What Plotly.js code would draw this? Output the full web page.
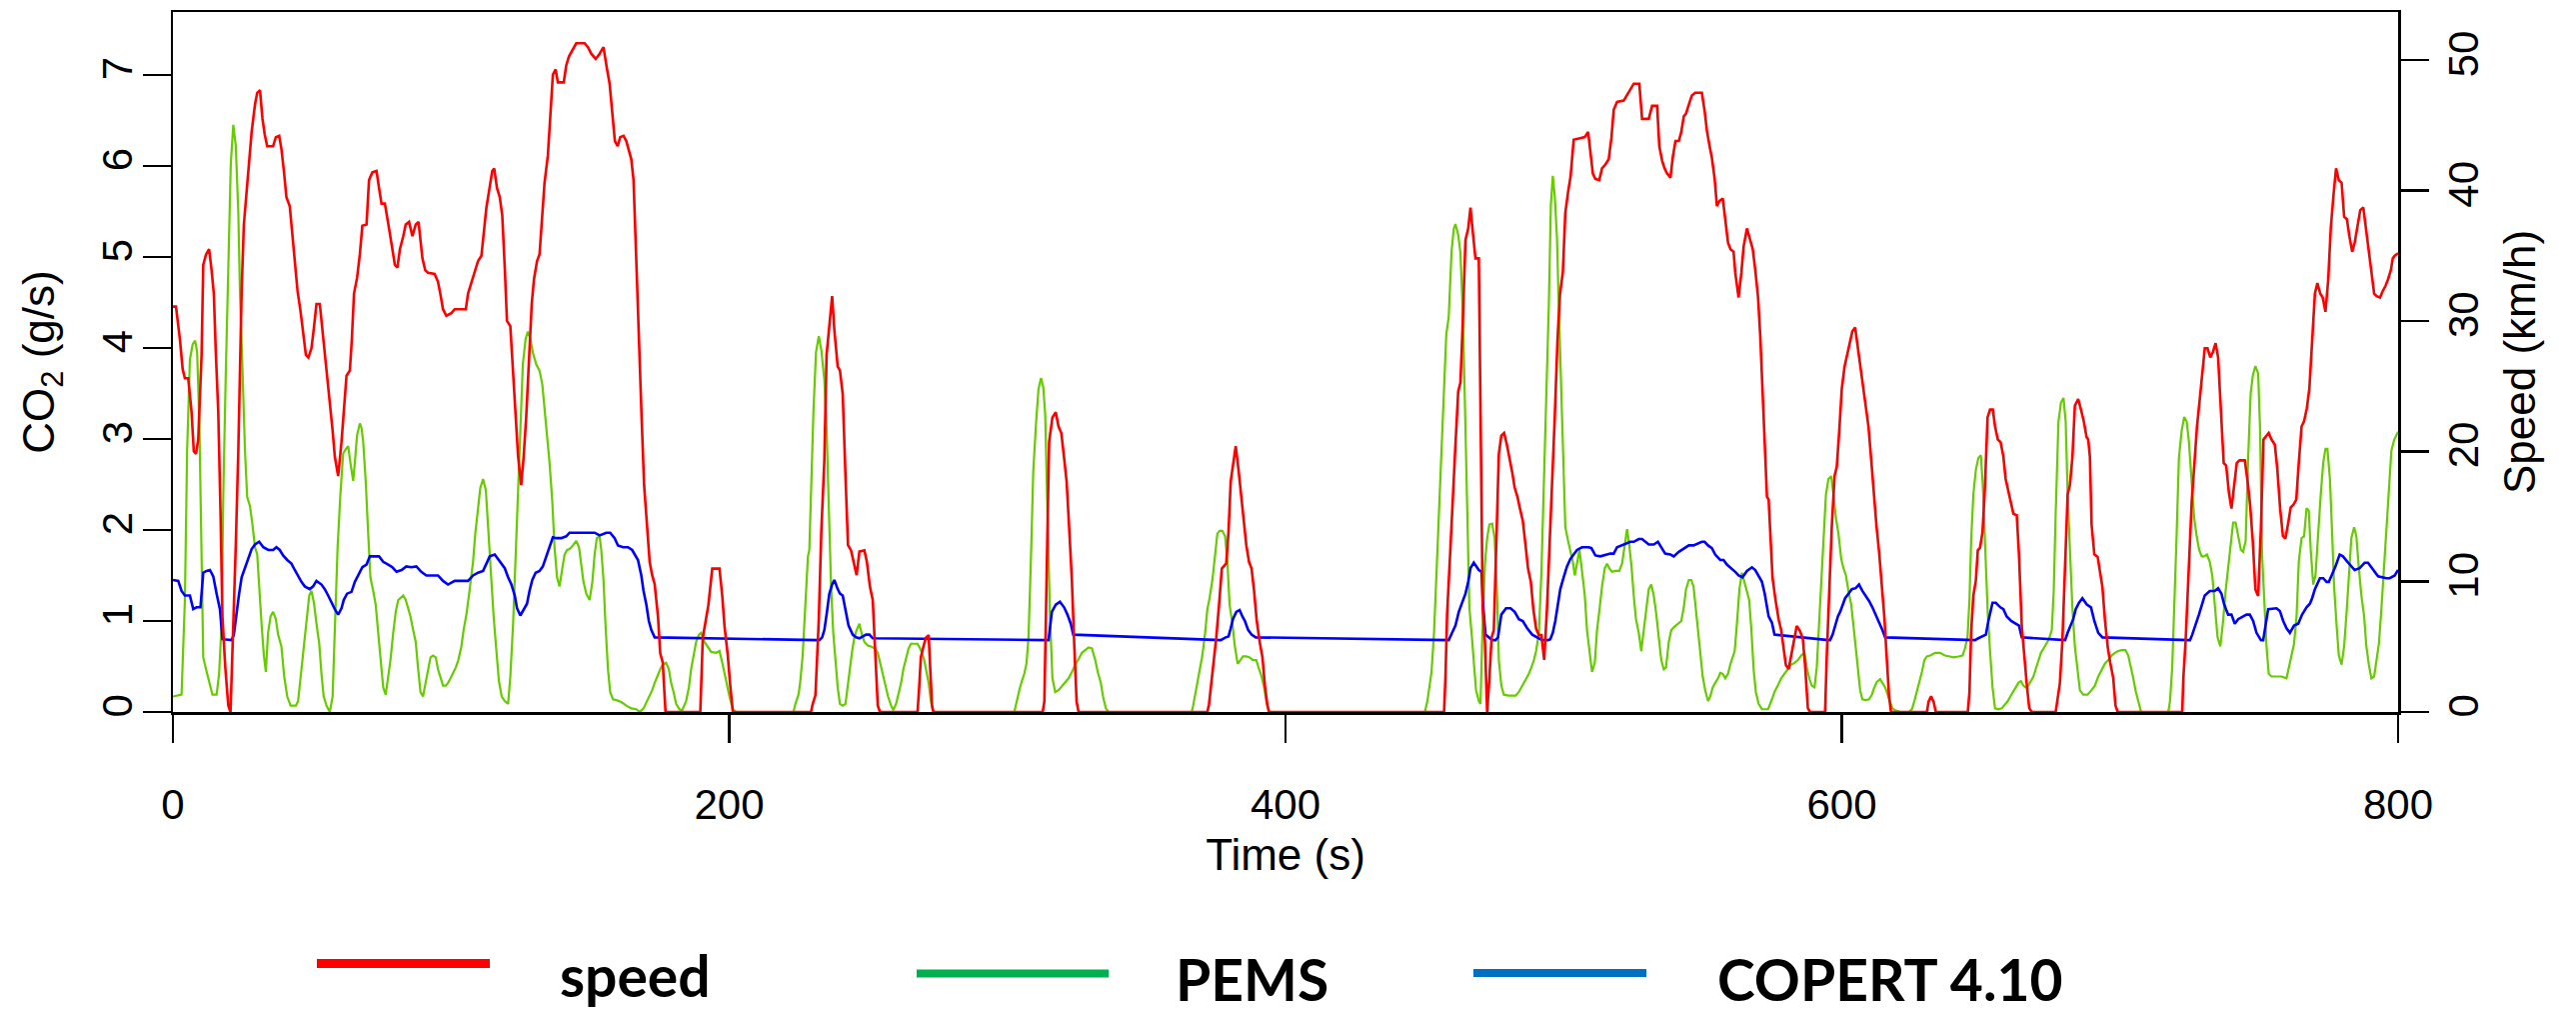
<!DOCTYPE html>
<html>
<head>
<meta charset="utf-8">
<script src="https://cdn.plot.ly/plotly-3.0.1.min.js"></script>
<style>
html,body{margin:0;padding:0;background:#fff;}
#chart{width:2577px;height:1013px;}
</style>
</head>
<body>
<div id="chart"></div>
<script>
// ---- Data ----
const speedTime = [0,1.1,2.5,3.5,4.3,5.5,6.7,7.5,8.3,9.1,10.3,10.9,11.9,13.0,13.9,14.7,15.4,16.3,17.1,17.8,18.8,19.9,20.7,21.7,22.6,23.5,24.7,25.5,26.5,27.4,28.3,29.5,30.3,31.3,32.2,33.0,33.9,36.0,37.0,38.2,39.0,39.9,40.8,42.0,43.0,43.9,44.8,45.9,46.8,47.8,48.7,49.8,50.7,51.6,52.8,53.8,54.6,55.5,56.4,57.4,58.2,59.4,60.6,61.4,62.4,63.6,64.3,65.1,66.2,67.2,68.1,69.6,70.5,71.7,73.2,74.1,75.0,76.2,77.0,78.0,78.9,79.8,80.7,81.6,82.8,83.7,84.9,86.1,87.3,88.3,89.0,89.7,90.7,91.7,94.1,95.3,96.2,97.1,98.3,100.1,101.3,105.3,106.1,107.3,108.5,109.7,110.9,111.7,112.7,113.6,114.8,115.5,116.5,117.5,118.4,119.3,120.1,121.3,122.3,123.2,124.1,125.2,126.1,127.0,128.0,129.0,129.8,130.9,131.8,132.7,133.6,134.8,135.8,136.6,137.6,138.4,140.5,141.4,142.4,143.6,145.0,148.0,149.2,150.4,152.0,153.4,154.8,156.0,157.0,157.9,158.9,159.9,160.8,162.0,163.0,164.8,165.6,166.6,167.5,168.5,169.4,170.4,171.4,172.3,173.2,174.4,175.2,176.1,177.1,189.6,190.5,192.5,193.9,196.5,197.5,198.3,199.5,200.3,201.3,229.4,230.0,231.0,232.2,233.1,234.2,235.0,236.0,237.0,237.8,239.0,239.8,240.8,241.8,242.7,243.8,244.8,245.8,246.8,248.6,249.5,250.6,251.6,252.5,253.4,254.2,267.7,268.3,268.9,269.8,270.7,271.7,272.2,272.9,273.4,312.7,313.3,314.1,315.0,316.2,317.4,318.4,319.4,320.4,321.3,322.2,323.2,324.0,324.9,325.6,371.9,372.5,373.5,374.3,375.1,376.1,377.1,378.7,379.5,380.3,381.1,382.1,383.1,384.0,384.8,385.9,386.9,387.8,388.7,389.6,390.7,391.7,392.6,393.5,394.1,457.0,457.5,458.1,459.3,460.2,461.1,462.1,462.9,463.7,464.7,465.7,466.5,467.3,468.3,469.5,470.1,470.9,471.7,472.5,473.3,474.1,474.9,475.7,476.7,477.6,478.6,479.6,480.5,481.5,482.4,483.4,484.3,485.3,486.3,487.2,488.2,489.1,490.1,491.1,492.0,493.0,494.0,494.9,495.8,496.8,497.8,498.7,499.7,500.6,501.6,502.5,503.6,505.4,507.6,508.8,509.6,510.5,511.4,512.8,513.8,515.0,516.2,517.2,518.0,519.2,521.6,522.8,524.0,525.2,527.2,528.2,530.6,531.8,533.6,534.4,535.4,536.3,537.2,538.4,539.2,540.2,541.4,542.3,543.2,544.0,545.0,546.1,547.3,549.7,550.7,551.5,552.4,553.3,554.3,555.1,556.0,557.2,558.1,559.1,560.0,561.1,561.7,562.9,563.9,564.7,565.9,567.1,568.0,568.9,569.9,570.7,571.5,572.3,573.1,573.7,574.3,575.1,576.1,577.3,578.2,579.1,579.9,580.9,581.8,582.7,583.8,585.0,586.0,586.8,587.8,588.6,594.0,594.6,595.5,596.4,597.4,598.2,599.1,600.0,601.0,601.9,602.9,603.8,604.8,605.8,606.7,607.7,608.6,609.6,610.6,611.5,612.5,613.4,614.4,615.3,616.2,617.0,617.7,630.6,631.2,632.1,633.0,633.8,645.3,645.9,646.5,647.3,648.2,648.9,649.7,650.6,651.5,652.4,653.3,654.3,655.1,656.1,657.1,658.1,658.9,659.9,660.9,661.7,662.9,663.7,664.7,665.6,666.6,667.4,668.3,676.9,677.4,678.4,679.3,680.3,681.2,682.0,682.9,683.8,685.0,686.0,687.0,688.0,688.6,689.2,689.8,690.8,692.0,692.8,693.7,694.6,695.6,696.5,697.6,698.4,699.2,722.4,722.8,723.6,724.6,725.8,726.7,727.7,728.7,729.6,730.5,731.5,732.5,733.4,734.4,735.3,736.3,737.3,738.2,739.2,740.1,741.1,742.0,743.0,744.9,745.9,746.8,747.8,748.7,749.7,750.7,751.6,752.6,753.5,754.5,755.7,756.6,757.6,758.6,759.5,760.5,761.4,762.4,763.4,764.3,765.3,766.2,767.2,768.1,769.1,770.1,771.0,772.0,772.9,773.9,774.9,775.8,776.8,777.7,778.7,779.7,780.6,781.6,782.5,783.5,784.4,785.4,786.4,787.5,788.5,789.5,790.4,791.4,792.3,793.5,794.5,795.5,796.4,797.4,798.1,798.8,800];
const speedKmh = [31.1,31.1,28.6,26.3,25.6,25.6,23.0,20.0,19.8,20.9,27.4,34.3,35.1,35.5,33.9,32.1,27.7,23.0,15.4,7.3,3.5,0.5,0,6.1,12.8,20.0,32.3,37.4,40.2,42.7,44.5,46.6,47.5,47.7,45.5,44.3,43.4,43.4,44.1,44.2,43.2,41.5,39.5,38.8,36.5,34.3,32.3,30.7,29.3,27.4,27.2,27.9,29.5,31.3,31.3,29.3,27.6,25.8,23.7,21.6,19.6,18.1,20.7,23.3,25.8,26.2,28.5,32.1,33.3,35.1,37.3,37.4,40.8,41.4,41.5,40.2,39.0,39.0,37.8,36.7,35.5,34.3,34.1,35.5,36.5,37.4,37.6,36.5,37.4,37.6,36.2,34.8,33.9,33.7,33.6,33.0,32.0,30.9,30.4,30.6,30.9,30.9,32.1,33.0,33.9,34.6,35.0,36.7,38.7,39.9,41.5,41.7,40.2,39.5,38.1,34.1,30.0,29.6,26.0,21.9,19.6,17.4,19.6,22.6,26.7,31.3,33.2,34.6,35.1,37.6,40.6,42.7,46.6,48.9,49.3,48.3,48.3,49.6,50.3,50.8,51.3,51.3,51.0,50.5,50.1,50.5,51.0,49.4,48.2,46.1,43.8,43.4,44.1,44.2,43.8,42.4,40.8,34.6,28.1,22.6,17.4,14.4,11.5,10.5,9.8,7.3,4.5,3.8,0,0,5.7,8.2,11.0,11.0,8.9,6.6,4.3,2.2,0,0,0.6,1.3,7.1,13.8,19.3,27.4,30.0,31.9,29.3,26.5,26.2,24.4,18.1,12.8,12.4,11.5,10.5,12.3,12.4,11.5,9.6,8.6,4.7,0.5,0,0,1.9,4.2,5.0,5.7,5.9,3.1,0.5,0,0,0.8,10.0,20.7,22.6,23.0,21.9,21.4,19.5,17.7,14.2,10.1,5.4,0.8,0,0,0.6,2.6,4.0,5.7,8.2,11.0,11.4,13.8,17.7,19.1,20.4,18.6,16.7,14.9,12.8,11.5,11.0,9.3,7.1,5.4,4.2,2.0,0.5,0,0,2.6,7.5,12.6,16.1,20.5,24.6,25.3,29.7,36.2,37.1,38.7,36.9,34.8,34.8,24.0,7.9,5.4,0,2.6,5.7,6.3,12.4,19.8,21.2,21.4,20.5,19.6,18.4,17.2,16.5,15.6,14.7,12.8,11.0,10.0,7.9,6.4,5.9,5.9,4.0,7.9,12.4,16.8,22.6,28.6,32.1,33.7,38.3,39.9,41.1,43.9,44.0,44.1,44.5,43.1,41.3,40.9,40.8,41.7,42.0,42.4,44.1,46.2,46.8,46.9,47.3,47.8,48.2,48.2,45.5,45.5,46.5,46.5,43.4,42.3,41.7,41.3,41.0,42.5,43.8,43.8,44.5,45.7,45.9,46.6,47.3,47.5,47.5,46.1,44.6,43.5,42.5,40.9,38.8,39.2,39.4,37.8,36.0,35.5,35.3,33.7,31.8,33.7,35.7,37.1,36.2,35.5,33.9,31.8,28.8,24.6,20.5,16.5,16.3,13.5,10.3,8.7,7.1,6.3,4.7,3.6,3.3,4.3,5.2,6.6,6.2,5.6,3.6,0.3,0,0,4.3,9.6,14.2,18.1,18.8,21.6,24.8,26.5,27.4,28.5,29.2,29.5,27.9,26.2,24.9,23.2,21.9,19.3,16.7,14.2,12.3,9.6,7.3,4.0,1.2,0,0,0.8,1.2,0.8,0,0,1.5,6.1,8.9,10.1,12.4,12.6,13.8,17.4,22.6,23.2,23.2,21.9,20.9,20.7,19.6,17.9,17.0,15.9,15.2,15.1,12.1,6.6,4.2,1.9,0.3,0,0,0.8,2.2,5.4,11.7,16.7,17.4,19.5,23.5,24.0,23.2,22.3,21.1,20.9,19.6,14.4,12.1,11.9,10.8,9.6,7.1,5.0,3.8,2.6,0.5,0,0,2.6,5.4,10.7,16.1,18.8,21.9,24.0,26.2,27.9,27.9,27.2,27.6,28.3,27.2,22.8,19.1,18.9,16.8,15.6,17.5,19.1,19.3,19.3,17.7,15.9,13.0,9.4,8.9,14.2,20.9,21.2,21.4,20.9,20.5,18.6,15.6,13.5,13.3,14.5,15.7,15.9,16.3,19.1,21.9,22.3,23.3,24.8,28.5,32.1,32.9,32.1,31.8,30.7,33.2,37.1,39.7,41.7,40.8,40.6,38.0,37.8,36.5,35.3,36.0,37.3,38.5,38.7,37.1,35.3,33.7,32.1,31.9,31.8,32.3,32.7,33.2,33.9,34.8,35.0,35.2];

const pemsTime = [0,3.1,4.3,5.1,6.1,7.1,8.0,8.7,9.5,10.3,10.9,11.9,13.0,14.2,15.7,16.6,17.5,18.1,19.0,19.9,20.8,21.7,22.6,23.5,24.1,25.0,25.9,26.7,27.7,28.5,29.5,30.3,31.0,31.9,32.7,33.4,34.2,35.1,36.0,37.0,37.8,39.0,40.0,41.1,42.3,44.2,45.0,45.9,46.8,48.0,49.0,49.8,50.7,51.6,52.6,53.4,54.2,55.2,56.4,57.4,58.2,59.2,60.2,61.2,62.2,63.0,63.8,64.8,65.4,66.2,67.2,67.8,68.4,69.3,70.2,71.0,72.0,72.9,73.8,74.6,75.6,76.5,77.4,78.2,79.2,80.1,81.0,81.8,82.8,83.7,84.6,85.4,86.3,87.3,88.1,89.0,89.9,90.9,91.7,92.6,93.5,94.5,95.3,96.2,97.1,98.1,98.9,99.8,100.7,101.7,102.6,103.7,104.5,105.5,106.5,107.3,107.9,108.7,109.7,110.5,111.5,112.5,112.9,113.6,113.9,114.5,115.3,116.3,117.2,118.2,119.3,120.5,121.3,122.3,123.2,124.1,124.9,125.8,126.8,127.6,128.5,129.4,130.6,131.8,132.8,133.6,134.5,135.4,136.4,137.2,138.1,139.0,140.0,140.8,141.7,142.6,143.8,145.0,146.0,146.8,147.6,148.6,149.8,150.8,151.6,152.4,153.4,154.0,154.8,155.5,156.4,157.2,158.2,159.4,161.2,163.0,164.8,166.6,167.8,169.2,170.4,171.4,172.3,173.2,174.4,175.2,176.1,177.3,178.3,179.1,180.0,180.9,182.1,183.1,184.5,185.5,186.3,187.2,188.1,189.1,189.9,191.1,192.3,193.5,195.3,196.5,197.5,198.3,199.1,200.1,201.3,202.5,223.1,223.8,224.9,225.5,226.4,227.4,228.3,228.8,229.4,230.3,231.2,232.2,233.1,234.2,235.0,235.8,236.6,237.4,238.2,239.0,239.8,240.8,241.8,242.6,243.4,244.2,245.0,245.8,246.8,247.7,248.6,249.8,251.0,252.2,253.4,254.2,255.2,256.1,257.1,258.2,259.0,260.0,260.9,261.8,262.6,263.6,264.5,265.3,266.6,267.7,268.6,269.3,270.1,271.0,271.7,272.5,273.4,302.5,303.3,304.3,305.2,306.1,306.9,307.6,308.5,309.3,310.3,311.2,312.1,312.9,313.6,314.4,315.3,316.2,317.2,318.4,319.6,320.8,322.0,323.2,324.4,325.6,326.8,328.0,329.2,330.4,331.6,332.5,333.6,334.4,335.4,336.4,366.3,366.8,367.5,368.3,369.2,370.1,371.1,371.9,372.7,373.7,374.7,375.5,376.3,377.3,378.3,379.1,379.9,380.9,381.8,382.8,383.8,384.7,385.9,387.1,388.3,389.5,390.5,391.4,392.3,393.1,394.1,450.1,451.0,451.8,452.5,453.4,454.2,455.1,456.1,457.0,457.8,458.5,458.7,459.7,460.5,461.1,462.1,462.9,463.7,464.5,465.3,466.1,466.9,467.7,468.5,469.5,470.1,470.7,471.7,472.5,473.3,474.3,475.2,476.1,476.7,477.6,478.5,480.3,482.7,483.9,484.8,485.7,486.5,487.5,488.4,489.3,490.1,491.1,492.0,492.9,493.7,494.7,495.4,496.1,496.8,497.6,498.2,499.1,499.9,500.6,501.6,502.4,503.3,504.0,504.8,505.7,506.6,507.6,508.4,509.3,510.2,511.2,512.0,512.9,513.8,514.8,515.6,516.4,517.4,518.6,520.0,521.0,522.0,522.8,523.6,524.4,525.2,526.0,527.0,527.9,528.8,529.6,530.6,531.5,532.4,533.2,534.2,535.1,536.0,536.8,537.8,538.7,539.6,540.5,541.4,542.3,543.2,544.0,545.0,545.9,546.7,547.6,548.3,549.1,550.0,550.9,551.9,552.7,553.6,554.5,555.5,556.3,557.2,558.1,559.1,559.9,560.8,561.5,562.3,563.2,564.1,564.9,565.9,566.7,567.5,568.3,569.1,570.1,571.3,572.5,573.5,574.9,575.8,577.0,578.2,579.4,580.6,581.8,583.0,584.2,585.4,586.6,587.4,588.3,589.2,590.2,591.0,591.6,592.6,593.4,594.3,595.2,596.2,597.0,597.9,598.8,599.8,600.6,601.5,602.4,603.4,604.2,605.1,605.8,606.6,607.4,608.6,609.8,610.8,611.7,612.6,613.8,614.6,615.6,616.5,617.4,618.2,619.2,621.0,624.0,625.2,626.1,627.0,627.8,628.8,629.7,630.6,631.8,633.6,635.3,637.1,638.9,640.1,641.9,643.4,644.3,645.2,645.9,646.5,647.3,648.2,649.1,650.0,650.7,651.5,652.5,653.3,654.2,655.1,656.3,657.5,658.7,659.7,660.6,661.6,662.5,663.5,664.4,665.3,666.1,667.1,668.0,668.9,669.7,670.7,671.6,672.6,673.5,674.5,675.5,676.2,676.9,677.9,678.8,679.7,680.5,681.2,682.1,682.9,683.8,684.8,685.6,686.8,688.3,689.8,691.0,692.2,693.4,694.6,695.8,697.0,698.2,699.4,700.6,702.0,703.0,704.0,704.8,705.6,706.6,707.6,717.4,718.0,718.8,719.5,720.4,721.2,722.2,723.1,724.0,724.8,725.8,726.7,727.6,728.5,729.4,730.3,731.3,732.3,733.2,734.1,735.1,736.1,737.0,738.0,738.9,739.9,740.7,741.6,742.5,743.5,744.3,745.2,746.1,747.0,747.8,748.7,749.7,750.4,751.1,751.9,752.7,753.5,754.5,756.3,758.1,759.9,760.8,761.7,762.6,763.5,764.3,765.3,766.2,767.1,767.9,768.6,769.5,770.3,771.3,772.2,773.1,773.9,774.6,775.5,776.3,777.0,777.9,778.7,779.7,780.6,781.5,782.3,783.2,784.2,785.0,785.9,786.8,787.8,788.6,789.5,790.4,791.4,792.2,793.1,794.0,795.0,795.8,796.7,797.6,798.6,800];
const pemsCO2 = [0.17,0.19,1.23,2.87,3.87,4.04,4.08,3.95,3.19,1.58,0.60,0.47,0.34,0.19,0.19,0.42,0.97,2.39,3.72,4.96,6.02,6.45,6.22,5.49,4.61,3.77,2.87,2.36,2.26,2.08,1.81,1.73,1.33,0.95,0.62,0.44,0.87,1.05,1.10,1.02,0.85,0.72,0.39,0.17,0.07,0.07,0.12,0.39,0.70,1.05,1.28,1.33,1.20,0.97,0.75,0.42,0.17,0.07,0,0.17,0.92,1.81,2.39,2.84,2.89,2.92,2.74,2.54,2.74,3.04,3.17,3.12,2.97,2.54,1.96,1.48,1.33,1.18,0.87,0.57,0.27,0.19,0.37,0.57,0.87,1.10,1.23,1.25,1.28,1.23,1.13,1.05,0.91,0.77,0.49,0.22,0.17,0.32,0.47,0.60,0.62,0.60,0.47,0.37,0.29,0.29,0.32,0.37,0.42,0.49,0.57,0.72,0.90,1.07,1.30,1.53,1.65,1.96,2.26,2.46,2.56,2.44,2.24,1.88,1.83,1.43,1.05,0.67,0.34,0.17,0.12,0.09,0.39,0.97,1.73,2.49,3.22,3.82,4.10,4.18,4.10,3.95,3.82,3.75,3.60,3.35,3.07,2.74,2.31,1.81,1.48,1.38,1.58,1.73,1.78,1.79,1.83,1.88,1.81,1.63,1.43,1.30,1.23,1.43,1.73,1.91,1.93,1.78,1.45,0.97,0.47,0.22,0.14,0.13,0.11,0.07,0.04,0.03,0,0.04,0.12,0.17,0.24,0.32,0.42,0.47,0.52,0.54,0.47,0.32,0.22,0.09,0.03,0.02,0.12,0.27,0.47,0.62,0.77,0.85,0.87,0.77,0.71,0.66,0.65,0.67,0.54,0.42,0.29,0.17,0.03,0,0,0.09,0.19,0.32,0.62,1.13,1.71,1.78,2.51,3.32,3.95,4.13,3.98,3.65,3.12,2.29,1.40,0.87,0.54,0.27,0.09,0.07,0.09,0.29,0.52,0.67,0.82,0.90,0.97,0.85,0.77,0.73,0.72,0.70,0.65,0.54,0.42,0.29,0.17,0.07,0.02,0.09,0.19,0.32,0.47,0.60,0.70,0.75,0.75,0.75,0.70,0.65,0.57,0.44,0.32,0.12,0,0,0.12,0.24,0.34,0.42,0.54,0.82,1.71,2.64,3.17,3.55,3.67,3.57,3.27,2.36,1.07,0.37,0.22,0.24,0.28,0.32,0.37,0.44,0.52,0.58,0.65,0.68,0.71,0.70,0.57,0.44,0.32,0.17,0.04,0,0,0.07,0.19,0.32,0.47,0.62,0.87,1.13,1.25,1.45,1.73,1.96,1.99,1.99,1.93,1.65,1.18,0.97,0.72,0.53,0.57,0.61,0.61,0.60,0.57,0.57,0.47,0.39,0.27,0.12,0,0,0.12,0.29,0.44,0.87,1.48,2.21,2.87,3.60,4.15,4.30,4.35,5.06,5.31,5.36,5.24,5.04,4.43,3.40,2.11,1.15,0.87,0.57,0.24,0.12,0.09,0.77,1.63,1.91,2.06,2.07,1.91,1.25,0.57,0.29,0.19,0.18,0.18,0.22,0.27,0.32,0.37,0.42,0.49,0.57,0.67,0.87,1.53,2.49,3.22,4.51,5.57,5.89,5.67,5.21,4.51,3.50,2.59,2.03,1.88,1.76,1.65,1.50,1.65,1.78,1.55,1.28,0.90,0.67,0.44,0.54,0.90,1.13,1.38,1.58,1.63,1.58,1.54,1.55,1.55,1.63,1.86,2.01,1.83,1.60,1.28,1.02,0.87,0.67,0.90,1.13,1.35,1.40,1.28,1.10,0.82,0.57,0.47,0.49,0.77,0.90,0.93,0.95,0.97,1.00,1.15,1.35,1.45,1.45,1.38,1.13,0.92,0.67,0.39,0.24,0.12,0.17,0.27,0.32,0.37,0.43,0.42,0.37,0.42,0.52,0.60,0.67,0.97,1.35,1.53,1.43,1.33,1.23,0.90,0.47,0.22,0.09,0.03,0.03,0.03,0.14,0.22,0.29,0.37,0.42,0.47,0.52,0.54,0.57,0.62,0.65,0.49,0.37,0.29,0.27,0.49,0.85,1.38,1.91,2.39,2.56,2.59,2.39,2.13,1.96,1.68,1.58,1.50,1.33,1.18,0.95,0.67,0.42,0.24,0.14,0.13,0.14,0.19,0.27,0.33,0.36,0.32,0.27,0.19,0.12,0.04,0.02,0,0,0.03,0.12,0.22,0.32,0.44,0.57,0.61,0.62,0.65,0.65,0.62,0.61,0.60,0.61,0.62,0.70,0.82,1.23,1.88,2.39,2.66,2.79,2.82,2.49,1.76,1.07,0.67,0.27,0.04,0.03,0.04,0.08,0.12,0.17,0.22,0.27,0.32,0.34,0.29,0.27,0.29,0.34,0.39,0.47,0.57,0.65,0.70,0.75,0.80,0.90,1.33,2.18,3.19,3.40,3.45,3.19,2.39,1.73,1.15,0.72,0.42,0.24,0.19,0.19,0.24,0.29,0.39,0.47,0.53,0.57,0.62,0.65,0.67,0.68,0.68,0.62,0.49,0.37,0.24,0.12,0,0,0.12,0.49,1.07,1.96,2.79,3.09,3.24,3.19,2.97,2.49,2.13,1.93,1.78,1.71,1.71,1.73,1.65,1.50,1.13,0.82,0.72,0.97,1.33,1.58,1.88,2.08,2.08,1.93,1.78,1.76,1.88,2.79,3.50,3.70,3.80,3.72,3.09,1.73,1.13,0.72,0.42,0.39,0.39,0.39,0.37,0.49,0.60,0.75,1.05,1.65,1.91,1.93,2.24,2.21,1.78,1.40,1.50,2.03,2.39,2.74,2.89,2.89,2.56,1.96,1.38,0.95,0.62,0.52,0.72,1.10,1.53,1.91,2.03,1.93,1.58,1.28,1.05,0.72,0.52,0.37,0.39,0.57,0.75,1.13,1.63,2.08,2.49,2.87,2.99,3.08];

const copertTime = [0,1.9,3.1,4.3,6.1,7.3,8.5,9.9,10.9,12.1,13.3,14.5,15.7,16.9,17.8,21.1,21.9,22.9,23.8,24.7,25.9,27.1,28.3,29.5,31.0,32.5,34.3,36.0,37.2,38.4,39.6,41.1,42.6,43.8,45.0,46.2,47.4,49.2,50.4,51.6,53.4,54.6,55.8,57.0,58.2,59.4,60.6,61.4,62.6,64.2,65.4,66.6,68.1,69.6,70.8,74.1,75.6,77.4,78.9,80.4,82.2,83.9,85.7,87.5,89.3,91.1,95.3,97.1,98.9,101.3,106.1,107.9,109.7,111.5,112.9,113.9,115.7,116.9,118.1,119.3,120.5,121.7,122.9,123.7,124.9,126.1,127.3,128.2,129.2,130.4,131.8,133.0,134.2,135.4,136.6,137.8,139.6,141.4,142.6,151.6,153.4,155.8,157.2,158.8,160.0,161.8,163.6,165.1,166.3,167.2,168.4,169.2,170.2,171.1,172.0,173.2,231.8,232.4,233.4,234.2,235.0,236.0,237.0,237.8,239.0,239.8,240.8,241.8,242.9,244.4,245.6,246.8,249.2,250.4,251.6,314.1,314.8,316.0,317.4,318.9,320.4,321.6,322.8,323.7,376.1,376.7,378.5,379.5,380.3,381.1,382.3,383.5,384.5,385.4,386.6,387.8,389.3,458.0,458.7,459.9,461.1,462.3,463.8,464.7,465.7,466.5,467.7,469.5,470.5,470.9,471.9,474.3,475.5,476.4,477.6,479.3,480.9,482.4,483.9,485.3,486.9,488.7,492.3,494.4,495.2,496.1,497.0,498.0,498.8,500.0,501.2,502.4,503.6,504.8,506.6,509.0,510.0,511.4,513.2,514.4,516.8,518.0,519.2,524.0,525.2,527.0,528.2,530.6,532.4,533.9,535.1,536.5,538.4,539.6,541.4,543.2,545.0,546.7,549.7,550.7,551.9,553.3,554.5,556.3,557.5,558.7,560.3,561.7,562.9,564.3,565.9,567.7,568.9,570.1,571.3,572.3,573.1,573.7,574.9,575.8,595.2,595.8,596.7,597.6,598.6,599.4,600.3,601.2,602.4,603.6,605.0,606.2,607.4,608.6,609.8,611.0,612.2,613.4,614.6,615.6,647.3,647.9,649.1,651.3,651.8,652.7,654.2,655.4,657.0,658.1,659.3,660.9,662.9,663.7,664.7,679.7,680.3,681.2,682.4,683.2,684.1,685.3,686.5,688.1,689.6,690.8,692.2,693.7,724.6,725.2,726.0,727.2,728.4,729.6,730.5,732.3,734.1,735.3,736.5,737.5,738.9,740.1,741.3,742.5,745.5,746.7,747.9,749.1,750.7,751.5,753.3,756.3,757.5,758.7,759.9,761.1,762.6,764.1,765.5,767.1,768.3,769.1,770.1,771.9,773.1,774.3,775.1,776.1,777.5,779.0,780.2,781.8,783.2,784.4,786.2,788.0,789.2,790.7,792.8,795.8,797.0,798.8,800];
const copertCO2 = [1.45,1.44,1.33,1.28,1.28,1.13,1.15,1.15,1.53,1.55,1.56,1.49,1.30,1.13,0.80,0.79,0.85,1.10,1.30,1.48,1.59,1.68,1.79,1.84,1.87,1.81,1.78,1.78,1.81,1.78,1.72,1.67,1.63,1.56,1.49,1.43,1.38,1.35,1.38,1.44,1.40,1.35,1.28,1.20,1.13,1.07,1.14,1.23,1.30,1.32,1.43,1.50,1.59,1.62,1.71,1.71,1.65,1.62,1.59,1.54,1.56,1.60,1.59,1.60,1.54,1.50,1.50,1.44,1.40,1.44,1.44,1.50,1.53,1.55,1.65,1.71,1.73,1.68,1.64,1.58,1.48,1.40,1.28,1.14,1.06,1.13,1.19,1.33,1.45,1.53,1.55,1.60,1.71,1.83,1.92,1.91,1.91,1.93,1.97,1.97,1.94,1.97,1.97,1.91,1.83,1.81,1.81,1.78,1.72,1.67,1.50,1.33,1.18,1.00,0.90,0.82,0.79,0.79,0.82,0.90,1.07,1.30,1.40,1.45,1.35,1.30,1.28,1.13,0.95,0.85,0.82,0.81,0.85,0.85,0.81,0.79,0.79,1.10,1.18,1.21,1.15,1.07,0.97,0.85,0.79,0.79,0.82,0.83,0.92,1.02,1.10,1.12,1.05,1.00,0.90,0.85,0.82,0.79,0.79,0.87,0.95,1.10,1.23,1.30,1.43,1.58,1.64,1.56,1.54,1.23,0.85,0.79,0.79,0.82,1.07,1.14,1.14,1.10,1.02,1.00,0.92,0.85,0.79,0.79,0.80,0.87,1.00,1.20,1.35,1.48,1.60,1.68,1.73,1.78,1.81,1.81,1.80,1.72,1.71,1.72,1.74,1.74,1.81,1.87,1.87,1.90,1.90,1.84,1.84,1.87,1.81,1.74,1.73,1.71,1.76,1.80,1.83,1.83,1.87,1.87,1.83,1.80,1.73,1.67,1.67,1.62,1.58,1.54,1.50,1.48,1.55,1.59,1.56,1.50,1.43,1.30,1.18,1.05,0.98,0.85,0.79,0.79,0.85,0.95,1.05,1.10,1.18,1.25,1.30,1.35,1.36,1.40,1.33,1.28,1.22,1.15,1.07,0.98,0.90,0.82,0.79,0.79,0.81,0.84,0.85,1.00,1.20,1.20,1.15,1.13,1.05,1.00,0.96,0.95,0.82,0.79,0.79,0.87,0.97,1.02,1.13,1.20,1.25,1.18,1.15,1.00,0.87,0.82,0.79,0.79,0.85,0.95,1.07,1.19,1.28,1.33,1.33,1.36,1.30,1.18,1.07,1.07,0.97,1.02,1.07,1.07,1.00,0.87,0.79,0.79,1.13,1.14,1.11,1.00,0.92,0.87,0.95,0.97,1.07,1.15,1.19,1.25,1.35,1.47,1.47,1.43,1.43,1.50,1.60,1.73,1.71,1.65,1.60,1.56,1.58,1.64,1.64,1.58,1.49,1.47,1.47,1.50,1.56,1.56];

const xTicks = [0, 200, 400, 600, 800];
const co2Ticks = [0, 1, 2, 3, 4, 5, 6, 7];
const speedTicks = [0, 10, 20, 30, 40, 50];
const legendLabels = ['speed', 'PEMS', 'COPERT 4.10'];
const legendColors = ['#ff0000', '#00b050', '#0070c0'];

// ---- Chart ----
const FONT = 'Liberation Sans, Arial, sans-serif';
const axisCommon = {
  showgrid: false, zeroline: false, showline: true,
  linecolor: '#000', linewidth: 2.5,
  ticks: 'outside', ticklen: 28, tickwidth: 2.5, tickcolor: '#000',
  tickfont: {family: FONT, size: 42, color: '#000'}
};

const traces = [
  {x: pemsTime, y: pemsCO2, type: 'scatter', mode: 'lines', name: 'PEMS',
   line: {color: '#66cc00', width: 2.2}, xaxis: 'x', yaxis: 'y', hoverinfo: 'skip'},
  {x: copertTime, y: copertCO2, type: 'scatter', mode: 'lines', name: 'COPERT 4.10',
   line: {color: '#0000ff', width: 2.6}, xaxis: 'x', yaxis: 'y', hoverinfo: 'skip'},
  {x: speedTime, y: speedKmh, type: 'scatter', mode: 'lines', name: 'speed',
   line: {color: '#ff0000', width: 2.6}, xaxis: 'x', yaxis: 'y2', hoverinfo: 'skip'}
];

const W = 2577, H = 1013;
const L = 173, R = 178, T = 12, B = 301;
const pw = W - L - R, ph = H - T - B;
const px = v => (v - L) / pw;          // pixel -> paper x
const py = v => (H - B - v) / ph;      // pixel -> paper y

const legendLines = [[317, 490, 963.5, 9], [917, 1109, 973.5, 8], [1474, 1647, 973, 8]];
const legendTextX = [559, 1175, 1717];
const legendTextY = [975, 979, 979];

const shapes = legendLines.map((d, i) => ({
  type: 'line', xref: 'paper', yref: 'paper',
  x0: px(d[0]), x1: px(d[1]), y0: py(d[2]), y1: py(d[2]),
  line: {color: legendColors[i], width: d[3]}
}));
const annotations = legendLabels.map((t, i) => ({
  text: t, xref: 'paper', yref: 'paper', x: px(legendTextX[i]), y: py(legendTextY[i]),
  xanchor: 'left', yanchor: 'middle', showarrow: false, borderpad: 0,
  font: {family: 'Lato, sans-serif', size: 57, color: '#000', weight: 700}
}));

const layout = {
  width: W, height: H,
  margin: {l: L, r: R, t: T, b: B, pad: 0},
  paper_bgcolor: '#fff', plot_bgcolor: '#fff',
  showlegend: false,
  xaxis: Object.assign({}, axisCommon, {
    range: [0, 800], tickvals: xTicks, ticktext: xTicks.map(String), mirror: true,
    ticklabelstandoff: 26,
    title: {text: 'Time (s)', font: {family: FONT, size: 44, color: '#000'}, standoff: 13}
  }),
  yaxis: Object.assign({}, axisCommon, {
    range: [0, 7.69], tickvals: co2Ticks, ticktext: co2Ticks.map(String), tickangle: -90,
    ticklabelstandoff: -6,
    title: {text: 'CO<sub>2</sub> (g/s)', font: {family: FONT, size: 44, color: '#000'}, standoff: 26}
  }),
  yaxis2: Object.assign({}, axisCommon, {
    range: [0, 53.7], tickvals: speedTicks, ticktext: speedTicks.map(String), tickangle: -90,
    overlaying: 'y', side: 'right', ticklabelstandoff: -1,
    title: {text: 'Speed (km/h)', font: {family: FONT, size: 44, color: '#000'}, standoff: 19}
  }),
  shapes: shapes,
  annotations: annotations
};

Plotly.newPlot('chart', traces, layout, {staticPlot: true, displayModeBar: false});
</script>
</body>
</html>
